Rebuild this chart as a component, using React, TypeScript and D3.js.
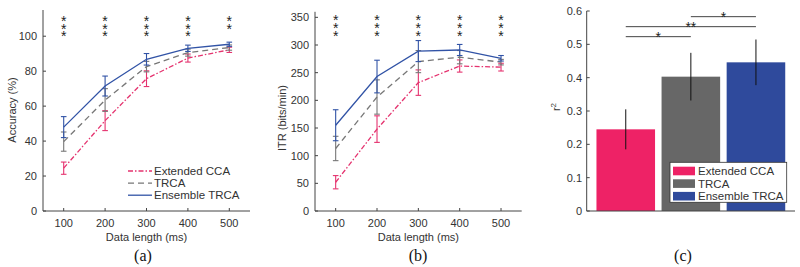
import React from "react";
import * as d3 from "d3";

// ---------- data ----------
const dataLengths = [100, 200, 300, 400, 500];

const accCCA = [24.5, 51.7, 75.7, 87.5, 92.2];
const accCCAErr = [3.5, 5.7, 4.5, 2.3, 1.5];
const accTRCA = [39.7, 63.5, 82.6, 90.6, 93.5];
const accTRCAErr = [5.5, 6.5, 3.0, 2.0, 1.5];
const accEns = [48.0, 71.5, 86.8, 93.1, 95.4];
const accEnsErr = [6.0, 5.7, 3.3, 1.8, 1.2];

const itrCCA = [52, 148, 232, 262, 260];
const itrCCAErr = [12, 24, 23, 11, 7];
const itrTRCA = [113, 206, 270, 278, 269];
const itrTRCAErr = [22, 31, 20, 12, 5];
const itrEns = [155, 243, 289, 291, 276];
const itrEnsErr = [28, 29.5, 19, 10, 5];

const accStars = [3, 3, 3, 3, 2];
const itrStars = [3, 3, 3, 3, 3];

const accTicks = [0, 20, 40, 60, 80, 100];
const itrTicks = [0, 50, 100, 150, 200, 250, 300, 350];
const r2Ticks = [0, 0.1, 0.2, 0.3, 0.4, 0.5, 0.6];

const methods = ["Extended CCA", "TRCA", "Ensemble TRCA"];
const r2Values = [0.245, 0.403, 0.446];
const r2Err = [0.06, 0.0715, 0.0685];
const sigPairs: [number, number, string, number][] = [
  [0, 1, "*", 0.523],
  [0, 2, "**", 0.553],
  [1, 2, "*", 0.583],
];

// ---------- styles ----------
const lineColors = ["#e5336f", "#777777", "#3153a6"];
const lineDash = ["5,2,1.5,2", "6,4", ""];
const barColors = ["#ee2266", "#676767", "#2f4a9c"];
const SANS = "'Liberation Sans', Arial, Helvetica, sans-serif";
const SERIF = "'Liberation Serif', 'Times New Roman', serif";
const TXT = "#333";
const AX = "#444";

type Series = { vals: number[]; errs: number[] };

function Stars({ x, counts, yScale, levels }: any) {
  return (
    <g>
      {dataLengths.map((d, i) => (
        <text
          key={i}
          textAnchor="middle"
          fontFamily={SANS}
          fontSize={14}
          fill="#222"
        >
          {levels.slice(0, counts[i]).map((lv: number, k: number) => (
            <tspan key={k} x={x(d)} y={yScale(lv) + 8}>
              *
            </tspan>
          ))}
        </text>
      ))}
    </g>
  );
}

function LinePanel({
  xRange,
  yDomain,
  yTop,
  ticks,
  series,
  starCounts,
  starLevels,
  ylabel,
  ylabelPos,
  label,
  labelX,
  legend,
}: any) {
  const x = d3.scaleLinear().domain([50, 550]).range(xRange);
  const y = d3.scaleLinear().domain(yDomain).range([211, yTop]);
  const line = d3
    .line<number>()
    .x((_, i) => x(dataLengths[i]))
    .y((v) => y(v));
  const x0 = xRange[0];
  const x1 = xRange[1];
  return (
    <g>
      {series.map((s: Series, si: number) => (
        <g key={si}>
          <path
            d={line(s.vals) || ""}
            fill="none"
            stroke={lineColors[si]}
            strokeWidth={1.3}
            strokeDasharray={lineDash[si]}
          />
          {s.vals.map((v, i) => {
            const cx = x(dataLengths[i]);
            const yt = y(v + s.errs[i]);
            const yb = y(v - s.errs[i]);
            return (
              <g key={i} stroke={lineColors[si]} strokeWidth={1.1}>
                <line x1={cx} x2={cx} y1={yt} y2={yb} />
                <line x1={cx - 2.8} x2={cx + 2.8} y1={yt} y2={yt} />
                <line x1={cx - 2.8} x2={cx + 2.8} y1={yb} y2={yb} />
              </g>
            );
          })}
        </g>
      ))}
      <line x1={x0} x2={x0} y1={y.range()[1]} y2={211} stroke={AX} strokeWidth={1} />
      <line x1={x0} x2={x1} y1={211} y2={211} stroke={AX} strokeWidth={1} />
      {ticks.map((t: number) => (
        <g key={t}>
          <line x1={x0} x2={x0 + 3} y1={y(t)} y2={y(t)} stroke={AX} />
          <text
            x={x0 - 6}
            y={y(t)}
            dy="0.36em"
            textAnchor="end"
            fontFamily={SANS}
            fontSize={11}
            fill={TXT}
          >
            {t}
          </text>
        </g>
      ))}
      {dataLengths.map((d) => (
        <g key={d}>
          <line x1={x(d)} x2={x(d)} y1={211} y2={208} stroke={AX} />
          <text
            x={x(d)}
            y={226.5}
            textAnchor="middle"
            fontFamily={SANS}
            fontSize={11}
            fill={TXT}
          >
            {d}
          </text>
        </g>
      ))}
      <text
        x={(x0 + x1) / 2}
        y={240.5}
        textAnchor="middle"
        fontFamily={SANS}
        fontSize={11}
        fill={TXT}
      >
        Data length (ms)
      </text>
      <text
        transform={`translate(${ylabelPos[0]},${ylabelPos[1]}) rotate(-90)`}
        textAnchor="middle"
        dy="0.36em"
        fontFamily={SANS}
        fontSize={11}
        fill={TXT}
      >
        {ylabel}
      </text>
      <Stars x={x} counts={starCounts} yScale={y} levels={starLevels} />
      <text x={labelX} y={261} textAnchor="middle" fontFamily={SERIF} fontSize={16} fill="#111">
        {label}
      </text>
      {legend && (
        <g>
          {methods.map((m, i) => {
            const ly = 171 + i * 12.1;
            return (
              <g key={m}>
                <line
                  x1={128}
                  x2={152}
                  y1={ly}
                  y2={ly}
                  stroke={lineColors[i]}
                  strokeWidth={1.3}
                  strokeDasharray={lineDash[i]}
                />
                <text
                  x={154}
                  y={ly}
                  dy="0.36em"
                  fontFamily={SANS}
                  fontSize={11.5}
                  fill={TXT}
                >
                  {m}
                </text>
              </g>
            );
          })}
        </g>
      )}
    </g>
  );
}

function BarPanel() {
  const x = d3.scaleLinear().domain([0.4, 3.6]).range([586.7, 795]);
  const y = d3.scaleLinear().domain([0, 0.6]).range([211, 11]);
  const bw = x(1.9) - x(1);
  return (
    <g>
      {r2Values.map((v, i) => (
        <rect
          key={i}
          x={x(i + 1) - bw / 2}
          y={y(v)}
          width={bw}
          height={y(0) - y(v)}
          fill={barColors[i]}
        />
      ))}
      {r2Values.map((v, i) => (
        <line
          key={i}
          x1={x(i + 1)}
          x2={x(i + 1)}
          y1={y(v + r2Err[i])}
          y2={y(v - r2Err[i])}
          stroke="#111"
          strokeWidth={1}
        />
      ))}
      {sigPairs.map(([a, b, s, lv], i) => (
        <g key={i}>
          <line x1={x(a + 1)} x2={x(b + 1)} y1={y(lv)} y2={y(lv)} stroke="#444" strokeWidth={1} />
          <text
            x={(x(a + 1) + x(b + 1)) / 2}
            y={y(lv) + 5}
            textAnchor="middle"
            fontFamily={SANS}
            fontSize={14}
            fill="#222"
          >
            {s}
          </text>
        </g>
      ))}
      <line x1={x(0.4)} x2={x(0.4)} y1={y(0.6)} y2={y(0)} stroke={AX} />
      <line x1={x(0.4)} x2={x(3.6)} y1={y(0)} y2={y(0)} stroke={AX} />
      {r2Ticks.map((t) => (
        <g key={t}>
          <line x1={x(0.4)} x2={x(0.4) + 3} y1={y(t)} y2={y(t)} stroke={AX} />
          <text
            x={582}
            y={y(t)}
            dy="0.36em"
            textAnchor="end"
            fontFamily={SANS}
            fontSize={11}
            fill={TXT}
          >
            {t === 0 ? "0" : d3.format(".1f")(t)}
          </text>
        </g>
      ))}
      <text
        transform={`translate(556,${y(0.3) - 4}) rotate(-90)`}
        textAnchor="middle"
        dy="0.36em"
        fontFamily={SANS}
        fontSize={11}
        fill={TXT}
      >
        r<tspan dy="-4" fontSize={8}>2</tspan>
      </text>
      <rect x={670} y={162.3} width={116.7} height={40} fill="#fff" stroke="#333" strokeWidth={0.8} />
      {methods.map((m, i) => {
        const ly = 171 + i * 12.6;
        return (
          <g key={m}>
            <rect x={673} y={ly - 4.3} width={22} height={8.6} fill={barColors[i]} />
            <text x={698} y={ly} dy="0.36em" fontFamily={SANS} fontSize={11.5} fill={TXT}>
              {m}
            </text>
          </g>
        );
      })}
      <text x={683} y={261} textAnchor="middle" fontFamily={SERIF} fontSize={16} fill="#111">
        (c)
      </text>
    </g>
  );
}

export default function App() {
  const accSeries: Series[] = [
    { vals: accCCA, errs: accCCAErr },
    { vals: accTRCA, errs: accTRCAErr },
    { vals: accEns, errs: accEnsErr },
  ];
  const itrSeries: Series[] = [
    { vals: itrCCA, errs: itrCCAErr },
    { vals: itrTRCA, errs: itrTRCAErr },
    { vals: itrEns, errs: itrEnsErr },
  ];
  return (
    <svg
      width={800}
      height={267}
      viewBox="0 0 800 267"
      style={{ position: "absolute", left: 0, top: 0, background: "#fff" }}
    >
      <rect width={800} height={267} fill="#fff" />
      <LinePanel
        xRange={[43, 250]}
        yDomain={[0, 115]}
        yTop={10}
        ticks={accTicks}
        series={accSeries}
        starCounts={accStars}
        starLevels={[110.2, 106, 101.8]}
        ylabel="Accuracy (%)"
        ylabelPos={[12.5, 110]}
        label="(a)"
        labelX={143}
        legend
      />
      <LinePanel
        xRange={[315, 521.7]}
        yDomain={[0, 360]}
        yTop={11.8}
        ticks={itrTicks}
        series={itrSeries}
        starCounts={itrStars}
        starLevels={[350, 336, 322]}
        ylabel="ITR (bits/min)"
        ylabelPos={[282, 118]}
        label="(b)"
        labelX={418}
      />
      <BarPanel />
    </svg>
  );
}
